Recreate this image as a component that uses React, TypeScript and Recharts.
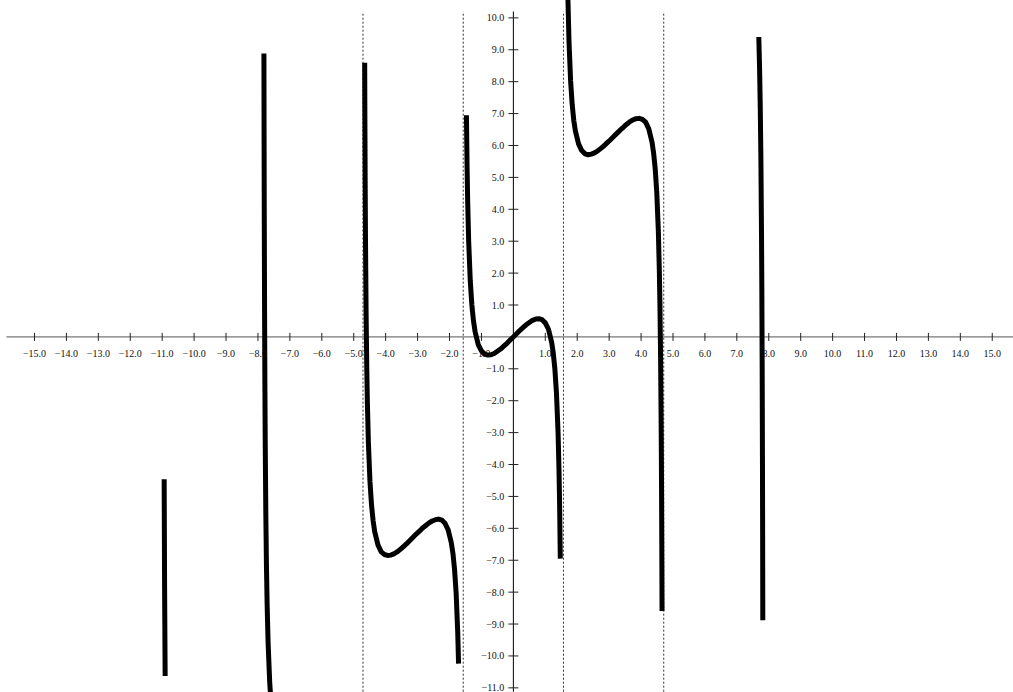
import React from 'react';
import { LineChart, Line, XAxis, YAxis, ReferenceLine, ReferenceDot } from 'recharts';

const X_DOMAIN: [number, number] = [-16.08, 15.65];
const Y_DOMAIN: [number, number] = [-11.13, 10.56];

const X_TICKS = [-15, -14, -13, -12, -11, -10, -9, -8, -7, -6, -5, -4, -3, -2, -1, 1, 2, 3, 4, 5, 6, 7, 8, 9, 10, 11, 12, 13, 14, 15];
const X_TICK_LABELS = ['−15.0', '−14.0', '−13.0', '−12.0', '−11.0', '−10.0', '−9.0', '−8.0', '−7.0', '−6.0', '−5.0', '−4.0', '−3.0', '−2.0', '−1.0', '1.0', '2.0', '3.0', '4.0', '5.0', '6.0', '7.0', '8.0', '9.0', '10.0', '11.0', '12.0', '13.0', '14.0', '15.0'];
const Y_TICKS = [10, 9, 8, 7, 6, 5, 4, 3, 2, 1, -1, -2, -3, -4, -5, -6, -7, -8, -9, -10, -11];
const Y_TICK_LABELS = ['10.0', '9.0', '8.0', '7.0', '6.0', '5.0', '4.0', '3.0', '2.0', '1.0', '−1.0', '−2.0', '−3.0', '−4.0', '−5.0', '−6.0', '−7.0', '−8.0', '−9.0', '−10.0', '−11.0'];
const ASYMPTOTES = [-4.71, -1.57, 1.57, 4.71];
const X_AXIS_SPAN: [number, number] = [-15.88, 15.65];
const Y_AXIS_SPAN: [number, number] = [-11.12, 10.2];

const pieceFarLeft: [number, number][] = [
  [-10.938, -4.46], [-10.925, -7.75], [-10.907, -10.63],
];
const pieceLeft: [number, number][] = [
  [-7.813, 8.88], [-7.808, 6.2], [-7.803, 4.06], [-7.793, 0.84], [-7.783, -1.47],
  [-7.773, -3.2], [-7.753, -5.62], [-7.733, -7.23], [-7.713, -8.37], [-7.683, -9.57],
  [-7.633, -10.81], [-7.583, -11.57],
];
const pieceMidLeft: [number, number][] = [
  [-4.657, 8.59], [-4.652, 7.13], [-4.642, 4.82], [-4.632, 3.09], [-4.612, 0.66],
  [-4.592, -0.95], [-4.572, -2.09], [-4.542, -3.29], [-4.492, -4.53], [-4.442, -5.28],
  [-4.392, -5.77], [-4.342, -6.11], [-4.242, -6.52], [-4.142, -6.73], [-4.042, -6.82],
  [-3.942, -6.85], [-3.842, -6.84], [-3.742, -6.8], [-3.642, -6.74], [-3.542, -6.66],
  [-3.442, -6.57], [-3.342, -6.48], [-3.242, -6.38], [-3.142, -6.28], [-3.042, -6.18],
  [-2.942, -6.09], [-2.842, -5.99], [-2.742, -5.91], [-2.642, -5.83], [-2.542, -5.77],
  [-2.442, -5.73], [-2.342, -5.71], [-2.242, -5.74], [-2.142, -5.84], [-2.042, -6.05],
  [-1.942, -6.46], [-1.892, -6.79], [-1.842, -7.29], [-1.792, -8.04], [-1.742, -9.28],
  [-1.717, -10.24],
];
const pieceCenter: [number, number][] = [
  [-1.47, 6.95], [-1.45, 5.34], [-1.43, 4.2], [-1.4, 3.0], [-1.35, 1.76], [-1.3, 1.0],
  [-1.25, 0.51], [-1.2, 0.17], [-1.1, -0.24], [-1.0, -0.44], [-0.9, -0.54], [-0.8, -0.57],
  [-0.7, -0.56], [-0.6, -0.52], [-0.5, -0.45], [-0.4, -0.38], [-0.3, -0.29], [-0.2, -0.2],
  [-0.1, -0.1], [0, 0], [0.1, 0.1], [0.2, 0.2], [0.3, 0.29], [0.4, 0.38], [0.5, 0.45],
  [0.6, 0.52], [0.7, 0.56], [0.8, 0.57], [0.9, 0.54], [1.0, 0.44], [1.1, 0.24], [1.2, -0.17],
  [1.25, -0.51], [1.3, -1.0], [1.35, -1.76], [1.4, -3.0], [1.43, -4.2], [1.45, -5.34], [1.47, -6.95],
];
const pieceMidRight: [number, number][] = [
  [1.692, 11.62], [1.712, 10.48], [1.742, 9.28], [1.792, 8.04], [1.842, 7.29], [1.892, 6.79],
  [1.942, 6.46], [2.042, 6.05], [2.142, 5.84], [2.242, 5.74], [2.342, 5.71], [2.442, 5.73],
  [2.542, 5.77], [2.642, 5.83], [2.742, 5.91], [2.842, 5.99], [2.942, 6.09], [3.042, 6.18],
  [3.142, 6.28], [3.242, 6.38], [3.342, 6.48], [3.442, 6.57], [3.542, 6.66], [3.642, 6.74],
  [3.742, 6.8], [3.842, 6.84], [3.942, 6.85], [4.042, 6.82], [4.142, 6.73], [4.242, 6.52],
  [4.342, 6.11], [4.392, 5.77], [4.442, 5.28], [4.492, 4.53], [4.542, 3.29], [4.572, 2.09],
  [4.592, 0.95], [4.612, -0.66], [4.632, -3.09], [4.642, -4.82], [4.652, -7.13], [4.657, -8.59],
];
const pieceRight: [number, number][] = [
  [7.688, 9.4], [7.713, 8.37], [7.733, 7.23], [7.753, 5.62], [7.773, 3.2], [7.783, 1.47],
  [7.793, -0.84], [7.803, -4.06], [7.808, -6.2], [7.813, -8.88],
];

const PIECES = [pieceFarLeft, pieceLeft, pieceMidLeft, pieceCenter, pieceMidRight, pieceRight];

type Row = { x: number; y: number | null };
const DATA: Row[] = [];
PIECES.forEach((piece, i) => {
  piece.forEach(([x, y]) => DATA.push({ x, y }));
  if (i < PIECES.length - 1) {
    const next = PIECES[i + 1];
    DATA.push({ x: (piece[piece.length - 1][0] + next[0][0]) / 2, y: null });
  }
});

const FONT = '"Liberation Serif", serif';

const XTick = (label: string) => (props: any) => {
  const { cx, cy } = props;
  return (
    <g>
      <line x1={cx} y1={cy - 4} x2={cx} y2={cy + 4} stroke="#222" strokeWidth={1} />
      <text x={cx} y={cy + 20} textAnchor="middle" fontFamily={FONT} fontSize={10} fill="#111">
        {label}
      </text>
    </g>
  );
};

const YTick = (label: string) => (props: any) => {
  const { cx, cy } = props;
  return (
    <g>
      <line x1={cx - 5} y1={cy} x2={cx + 5} y2={cy} stroke="#222" strokeWidth={1} />
      <text x={cx - 9} y={cy + 3.5} textAnchor="end" fontFamily={FONT} fontSize={10} fill="#111">
        {label}
      </text>
    </g>
  );
};

export default function App() {
  return (
    <div style={{ position: 'absolute', left: 0, top: 0, background: '#fff' }}>
      <LineChart width={1013} height={692} data={DATA} margin={{ top: 0, right: 0, bottom: 0, left: 0 }}>
        <XAxis type="number" dataKey="x" domain={X_DOMAIN} allowDataOverflow hide />
        <YAxis type="number" domain={Y_DOMAIN} allowDataOverflow hide />
        {ASYMPTOTES.map((a) => (
          <ReferenceLine
            key={`as${a}`}
            segment={[{ x: a, y: Y_AXIS_SPAN[0] }, { x: a, y: Y_AXIS_SPAN[1] }]}
            stroke="#333"
            strokeWidth={1}
            strokeDasharray="2 2"
          />
        ))}
        <ReferenceLine
          segment={[{ x: X_AXIS_SPAN[0], y: 0 }, { x: X_AXIS_SPAN[1], y: 0 }]}
          stroke="#555"
          strokeWidth={1}
        />
        <ReferenceLine
          segment={[{ x: 0, y: Y_AXIS_SPAN[0] }, { x: 0, y: Y_AXIS_SPAN[1] }]}
          stroke="#000"
          strokeWidth={1}
        />
        {X_TICKS.map((v, i) => (
          <ReferenceDot key={`xt${v}`} x={v} y={0} r={1} shape={XTick(X_TICK_LABELS[i])} />
        ))}
        {Y_TICKS.map((v, i) => (
          <ReferenceDot key={`yt${v}`} x={0} y={v} r={1} shape={YTick(Y_TICK_LABELS[i])} />
        ))}
        <Line
          type="linear"
          dataKey="y"
          stroke="#000"
          strokeWidth={5}
          strokeLinejoin="round"
          dot={false}
          activeDot={false}
          connectNulls={false}
          isAnimationActive={false}
        />
      </LineChart>
    </div>
  );
}
